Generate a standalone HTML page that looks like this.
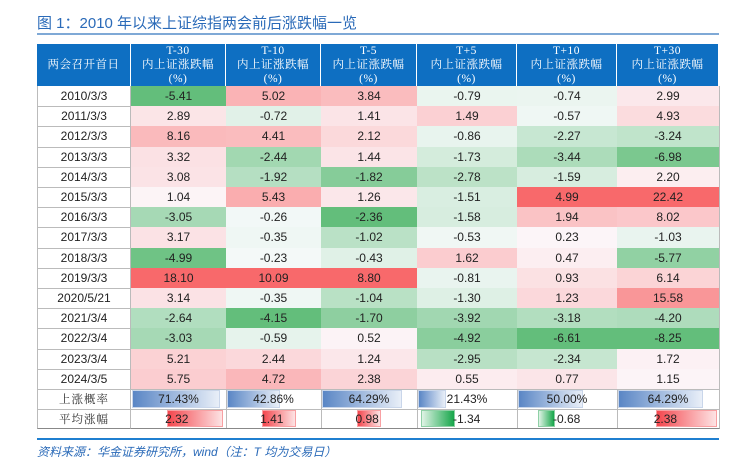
<!DOCTYPE html>
<html><head><meta charset="utf-8">
<style>
body{margin:0;background:#fff;width:732px;height:462px;overflow:hidden;position:relative;font-family:"Liberation Sans","Noto Sans CJK SC",sans-serif;}
.abs{position:absolute;box-sizing:border-box;}
#title{left:37px;top:12px;font-size:15px;color:#2a6ab8;font-family:"Liberation Sans","Noto Sans CJK SC",sans-serif;white-space:nowrap;}
#tline{left:37px;top:33px;width:682px;height:2px;background:#7fa9d6;}
.hd{background:#0e6fc2;color:#fff;font-family:"Liberation Serif","Noto Serif CJK SC",serif;font-size:11.5px;text-align:center;line-height:14px;display:flex;align-items:center;justify-content:center;border-right:1px solid #fff;letter-spacing:0.5px;}
.cell{font-size:12px;color:#222;display:flex;align-items:center;justify-content:center;border-right:1px solid #bbb;border-bottom:1px solid #bbb;}
.cn{font-family:"Liberation Serif","Noto Serif CJK SC",serif;font-size:11.5px;color:#333;letter-spacing:1px;}
#sline{left:37px;top:438px;width:682px;height:2px;background:#1f7fd0;}
#src{left:37px;top:443px;font-size:12px;color:#2a6ab8;font-style:italic;white-space:nowrap;}
</style></head><body>
<div id="title" class="abs">图 1：2010 年以来上证综指两会前后涨跌幅一览</div>
<div id="tline" class="abs"></div>
<div id="tbl"></div>
<div id="sline" class="abs"></div>
<div id="src" class="abs">资料来源：华金证券研究所，wind（注：T 均为交易日）</div>
<script>
const dates=["2010/3/3","2011/3/3","2012/3/3","2013/3/3","2014/3/3","2015/3/3","2016/3/3","2017/3/3","2018/3/3","2019/3/3","2020/5/21","2021/3/4","2022/3/4","2023/3/4","2024/3/5"];
const headers=["T-30","T-10","T-5","T+5","T+10","T+30"];
const colTm30=[-5.41,2.89,8.16,3.32,3.08,1.04,-3.05,3.17,-4.99,18.10,3.14,-2.64,-3.03,5.21,5.75];
const colTm10=[5.02,-0.72,4.41,-2.44,-1.92,5.43,-0.26,-0.35,-0.23,10.09,-0.35,-4.15,-0.59,2.44,4.72];
const colTm5=[3.84,1.41,2.12,1.44,-1.82,1.26,-2.36,-1.02,-0.43,8.80,-1.04,-1.70,0.52,1.24,2.38];
const colTp5=[-0.79,1.49,-0.86,-1.73,-2.78,-1.51,-1.58,-0.53,1.62,-0.81,-1.30,-3.92,-4.92,-2.95,0.55];
const colTp10=[-0.74,-0.57,-2.27,-3.44,-1.59,4.99,1.94,0.23,0.47,0.93,1.23,-3.18,-6.61,-2.34,0.77];
const colTp30=[2.99,4.93,-3.24,-6.98,2.20,22.42,8.02,-1.03,-5.77,6.14,15.58,-4.20,-8.25,1.72,1.15];
const scaleGroup=[0,1,2,3,3,4];
const upProb=[71.43,42.86,64.29,21.43,50.00,64.29];
const avgChg=[2.32,1.41,0.98,-1.34,-0.68,2.38];
const cols=[colTm30,colTm10,colTm5,colTp5,colTp10,colTp30];
const xs=[37,131,226,321,417,517,617,719];
const HT=44,HB=86,RH=20.2;
const tbl=document.getElementById('tbl');
function mk(cls,x,y,w,h,html){const d=document.createElement('div');d.className='abs '+cls;d.style.left=x+'px';d.style.top=y+'px';d.style.width=w+'px';d.style.height=h+'px';if(html!==undefined)d.innerHTML=html;tbl.appendChild(d);return d;}
function mix(a,b,t){t=Math.max(0,Math.min(1,t));return 'rgb('+a.map((v,i)=>Math.round(v+(b[i]-v)*t)).join(',')+')';}
const RED=[248,105,107],GRN=[99,190,123],WHT=[252,252,255];
function groupVals(i){let a=[];cols.forEach((c,j)=>{if(scaleGroup[j]===scaleGroup[i])a=a.concat(c);});return a;}
function color(v,i){const g=groupVals(i);const mx=Math.max(...g),mn=Math.min(...g);if(v>=0)return mix(WHT,RED,v/mx);return mix(WHT,GRN,v/mn);}
let h=mk('hd',xs[0],HT,xs[1]-xs[0],HB-HT,'两会召开首日');


headers.forEach((t,i)=>{const d=mk('hd',xs[i+1],HT,xs[i+2]-xs[i+1],HB-HT,t+'<br>内上证涨跌幅<br>(%)');

});
dates.forEach((dt,r)=>{const y=HB+r*RH;
const c=mk('cell',xs[0],y,xs[1]-xs[0],RH+1,dt);c.style.borderLeft='1px solid #bbb';


cols.forEach((col,i)=>{const v=col[r];const d=mk('cell',xs[i+1],y,xs[i+2]-xs[i+1]+1,RH+1,v.toFixed(2));d.style.background=color(v,i);

});});
const y1=HB+15*RH,y2=y1+20;
let l=mk('cell cn',xs[0],y1,xs[1]-xs[0],21,'上涨概率');l.style.borderLeft='1px solid #bbb';


l=mk('cell cn',xs[0],y2,xs[1]-xs[0],20,'平均涨幅');l.style.borderLeft='1px solid #bbb';l.style.borderBottom='1px solid #888';


const pmax=Math.max(...upProb);
upProb.forEach((p,i)=>{const w=xs[i+2]-xs[i+1];const c=mk('cell',xs[i+1],y1,w+1,21);


const b=document.createElement('div');b.className='abs';b.style.left='1px';b.style.top='1px';b.style.height='18px';b.style.width=(p/pmax*0.93*w)+'px';b.style.background='linear-gradient(90deg,#5a86c5,#e9eff8)';b.style.border='1px solid #c9d6ea';


c.appendChild(b);const s=document.createElement('span');s.style.position='relative';s.textContent=p.toFixed(2)+'%';c.appendChild(s);});
const amax=Math.max(...avgChg.map(Math.abs));
avgChg.forEach((v,i)=>{const w=xs[i+2]-xs[i+1];const c=mk('cell',xs[i+1],y2,w+1,20);c.style.borderBottom='1px solid #888';c.style.justifyContent='flex-start';


const ax=0.38*w;const len=Math.abs(v)/amax*0.6*w;
const b=document.createElement('div');b.className='abs';b.style.top='1px';b.style.height='17px';b.style.width=len+'px';
if(v>=0){b.style.left=ax+'px';b.style.background='linear-gradient(90deg,#f4474e,#fde3e4)';b.style.border='1px solid #f8a0a3';}
else{b.style.left=(ax-len)+'px';b.style.background='linear-gradient(90deg,#dff3e5,#16a64a)';b.style.border='1px solid #8fd0a6';}


c.appendChild(b);const s=document.createElement('span');s.style.position='absolute';s.style.left=(ax-2)+'px';s.style.top='3px';s.textContent=v.toFixed(2);c.appendChild(s);});
</script>
</body></html>
